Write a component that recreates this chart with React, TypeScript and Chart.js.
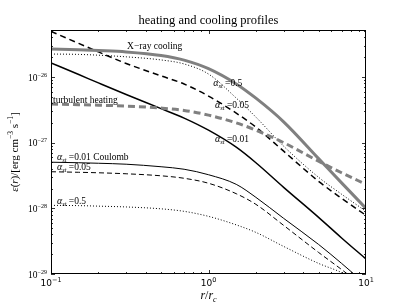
import { useEffect, useRef } from "react";
import { Chart, registerables } from "chart.js";

Chart.register(...registerables);

// radius r / r_c
const radius = [0.1, 0.15, 0.2, 0.3, 0.5, 0.7, 1, 1.5, 2, 3, 5, 7, 10];
// X-ray cooling (gray, thick)
const xrayCooling = [2.68e-26, 2.6e-26, 2.53e-26, 2.41e-26, 2.13e-26, 1.81e-26, 1.34e-26, 7.85e-27, 4.76e-27, 2.08e-27, 5.72e-28, 2.44e-28, 1.0e-28];
// turbulent heating (gray, thick dashed)
const turbulentHeating = [3.87e-27, 3.79e-27, 3.72e-27, 3.61e-27, 3.36e-27, 3.1e-27, 2.63e-27, 2.0e-27, 1.55e-27, 1.0e-27, 5.22e-28, 3.48e-28, 2.32e-28];
// upper family
const upperA05 = [2.24e-26, 2.21e-26, 2.15e-26, 2.03e-26, 1.82e-26, 1.58e-26, 1.11e-26, 4.78e-27, 2.45e-27, 8.84e-28, 2.97e-28, 1.64e-28, 9.0e-29];
const upperA005 = [4.95e-26, 3.25e-26, 2.41e-26, 1.61e-26, 1.04e-26, 7.82e-27, 5.13e-27, 2.82e-27, 1.72e-27, 7.42e-28, 2.58e-28, 1.42e-28, 7.82e-29];
const upperA001 = [1.64e-26, 1.09e-26, 8.13e-27, 5.41e-27, 3.3e-27, 2.37e-27, 1.55e-27, 8.54e-28, 4.95e-28, 2.09e-28, 7.29e-29, 3.54e-29, 1.69e-29];
// lower (Coulomb) family
const coulombA001 = [5.04e-28, 4.95e-28, 4.86e-28, 4.7e-28, 4.3e-28, 3.94e-28, 3.25e-28, 2.32e-28, 1.47e-28, 7.04e-29, 2.82e-29, 1.45e-29, 6.91e-30];
const coulombA005 = [3.61e-28, 3.54e-28, 3.48e-28, 3.36e-28, 3.13e-28, 2.87e-28, 2.41e-28, 1.67e-28, 1.15e-28, 5.5e-29, 2.13e-29, 1.17e-29, 6.0e-30];
const coulombA05 = [1.11e-28, 1.1e-28, 1.08e-28, 1.05e-28, 9.83e-29, 9.0e-29, 7.55e-29, 5.6e-29, 4.3e-29, 2.63e-29, 1.45e-29, 1.05e-29, 6.45e-30];

const xMin = 0.1;
const xMax = 10;
const yMin = 1e-29;
const yMax = 5.2e-26;
const xMajorTicks = [0.1, 1, 10];
const xTickExps = ["\u22121", "0", "1"];
const yMajorTicks = [1e-29, 1e-28, 1e-27, 1e-26];
const yTickExps = ["\u221229", "\u221228", "\u221227", "\u221226"];

const titleText = "heating and cooling profiles";

// annotation anchors: [r, value]
const xrayLabelAt = [0.304, 2.97e-26];
const turbLabelAt = [0.103, 4.46e-27];
const upperLabelR = [1.07, 1.1, 1.1];
const upperLabelV = [8.1e-27, 3.74e-27, 1.13e-27];
const upperLabelText = ["0.5", "0.05", "0.01"];
const lowerLabelR = [0.109, 0.109, 0.109];
const lowerLabelV = [6.01e-28, 4.23e-28, 1.28e-28];
const lowerLabelText = ["0.01 Coulomb", "0.05", "0.5"];

const GRAY = "#808080";
const SERIF = '"Liberation Serif", "DejaVu Serif", serif';
const SANS = '"DejaVu Sans", sans-serif';

function pts(vals: number[]) {
  return radius.map((r, i) => ({ x: r, y: vals[i] }));
}

type Piece = { t: string; f: string; dy?: number };

function drawRich(ctx: CanvasRenderingContext2D, pieces: Piece[], x: number, y: number, align: "left" | "center" | "right") {
  let total = 0;
  const widths = pieces.map((p) => {
    ctx.font = p.f;
    const w = ctx.measureText(p.t).width;
    total += w;
    return w;
  });
  let cx = align === "left" ? x : align === "center" ? x - total / 2 : x - total;
  ctx.textAlign = "left";
  ctx.textBaseline = "alphabetic";
  pieces.forEach((p, i) => {
    ctx.font = p.f;
    ctx.fillText(p.t, cx, y + (p.dy || 0));
    cx += widths[i];
  });
}

function alphaPieces(val: string): Piece[] {
  return [
    { t: "\u03b1", f: `italic 10px ${SERIF}` },
    { t: "st", f: `italic 6.5px ${SERIF}`, dy: 2 },
    { t: " =" + val, f: `9.5px ${SERIF}` },
  ];
}

const decoPlugin = {
  id: "deco",
  afterDraw(chart: any) {
    const ctx: CanvasRenderingContext2D = chart.ctx;
    const { left, right, top, bottom } = chart.chartArea;
    const xs = chart.scales.x;
    const ys = chart.scales.y;
    ctx.save();
    ctx.fillStyle = "#000";
    ctx.strokeStyle = "#000";
    // frame
    ctx.lineWidth = 1;
    ctx.strokeRect(left + 0.5, top + 0.5, right - left - 1, bottom - top - 1);
    // ticks
    ctx.lineWidth = 0.8;
    const tick = (px: number, len: number, horiz: boolean) => {
      ctx.beginPath();
      if (horiz) {
        ctx.moveTo(px, bottom);
        ctx.lineTo(px, bottom - len);
        ctx.moveTo(px, top);
        ctx.lineTo(px, top + len);
      } else {
        ctx.moveTo(left, px);
        ctx.lineTo(left + len, px);
        ctx.moveTo(right, px);
        ctx.lineTo(right - len, px);
      }
      ctx.stroke();
    };
    for (let e = -1; e <= 0; e++) {
      for (let k = 1; k <= 9; k++) {
        const v = k * Math.pow(10, e);
        if (v < xMin || v > xMax) continue;
        tick(Math.round(xs.getPixelForValue(v)) + 0.5, k === 1 ? 4 : 2, true);
      }
    }
    tick(Math.round(xs.getPixelForValue(10)) - 0.5, 4, true);
    for (let e = -29; e <= -26; e++) {
      for (let k = 1; k <= 9; k++) {
        const v = k * Math.pow(10, e);
        if (v < yMin || v > yMax) continue;
        tick(Math.round(ys.getPixelForValue(v)) + 0.5, k === 1 ? 4 : 2, false);
      }
    }
    // tick labels
    xMajorTicks.forEach((v, i) => {
      const px = xs.getPixelForValue(v);
      drawRich(ctx, [
        { t: "10", f: `9px ${SANS}` },
        { t: xTickExps[i], f: `6.5px ${SANS}`, dy: -4 },
      ], px, bottom + 12, "center");
    });
    yMajorTicks.forEach((v, i) => {
      const py = ys.getPixelForValue(v);
      drawRich(ctx, [
        { t: "10", f: `9.5px ${SERIF}` },
        { t: yTickExps[i], f: `6px ${SERIF}`, dy: -4 },
      ], left - 4, py + 3.5, "right");
    });
    // title
    drawRich(ctx, [{ t: titleText, f: `12.5px ${SERIF}` }], (left + right) / 2, 24, "center");
    // x label
    drawRich(ctx, [
      { t: "r", f: `italic 12px ${SERIF}` },
      { t: "/", f: `12px ${SERIF}` },
      { t: "r", f: `italic 12px ${SERIF}` },
      { t: "c", f: `italic 8px ${SERIF}`, dy: 2.5 },
    ], (left + right) / 2, 299, "center");
    // y label
    ctx.save();
    ctx.translate(18, (top + bottom) / 2);
    ctx.rotate(-Math.PI / 2);
    drawRich(ctx, [
      { t: "\u03b5\u0307", f: `italic 11px ${SERIF}` },
      { t: "(", f: `11px ${SERIF}` },
      { t: "r", f: `italic 11px ${SERIF}` },
      { t: ")/[erg cm", f: `11px ${SERIF}` },
      { t: "\u22123", f: `7.5px ${SERIF}`, dy: -5 },
      { t: " s", f: `11px ${SERIF}` },
      { t: "\u22121", f: `7.5px ${SERIF}`, dy: -5 },
      { t: "]", f: `11px ${SERIF}` },
    ], 0, 0, "center");
    ctx.restore();
    // annotations
    const at = (r: number, v: number) => [xs.getPixelForValue(r), ys.getPixelForValue(v) + 3];
    let p = at(xrayLabelAt[0], xrayLabelAt[1]);
    drawRich(ctx, [{ t: "X\u2212ray cooling", f: `9.5px ${SERIF}` }], p[0], p[1], "left");
    p = at(turbLabelAt[0], turbLabelAt[1]);
    drawRich(ctx, [{ t: "turbulent heating", f: `9.5px ${SERIF}` }], p[0], p[1], "left");
    upperLabelR.forEach((r, i) => {
      const q = at(r, upperLabelV[i]);
      drawRich(ctx, alphaPieces(upperLabelText[i]), q[0], q[1], "left");
    });
    lowerLabelR.forEach((r, i) => {
      const q = at(r, lowerLabelV[i]);
      drawRich(ctx, alphaPieces(lowerLabelText[i]), q[0], q[1], "left");
    });
    ctx.restore();
  },
};

export default function App() {
  const ref = useRef<HTMLCanvasElement | null>(null);
  useEffect(() => {
    if (!ref.current) return;
    const common = { pointRadius: 0, fill: false, cubicInterpolationMode: "monotone" as const };
    const chart = new Chart(ref.current, {
      type: "line",
      data: {
        datasets: [
          { ...common, label: "X-ray cooling", data: pts(xrayCooling), borderColor: GRAY, borderWidth: 3 },
          { ...common, label: "turbulent heating", data: pts(turbulentHeating), borderColor: GRAY, borderWidth: 3, borderDash: [7, 4] },
          { ...common, label: "alpha 0.5", data: pts(upperA05), borderColor: "#000", borderWidth: 1, borderDash: [1, 2] },
          { ...common, label: "alpha 0.05", data: pts(upperA005), borderColor: "#000", borderWidth: 1.5, borderDash: [6, 4] },
          { ...common, label: "alpha 0.01", data: pts(upperA001), borderColor: "#000", borderWidth: 1.5 },
          { ...common, label: "Coulomb 0.01", data: pts(coulombA001), borderColor: "#000", borderWidth: 1 },
          { ...common, label: "Coulomb 0.05", data: pts(coulombA005), borderColor: "#000", borderWidth: 1, borderDash: [5, 3] },
          { ...common, label: "Coulomb 0.5", data: pts(coulombA05), borderColor: "#000", borderWidth: 1, borderDash: [1, 2] },
        ],
      },
      options: {
        animation: false,
        responsive: false,
        parsing: false,
        layout: { padding: { left: 51, right: 41, top: 30, bottom: 31 } },
        plugins: { legend: { display: false }, tooltip: { enabled: false }, title: { display: false } },
        scales: {
          x: { type: "logarithmic", min: xMin, max: xMax, display: false },
          y: { type: "logarithmic", min: yMin, max: yMax, display: false },
        },
      },
      plugins: [decoPlugin],
    });
    return () => chart.destroy();
  }, []);
  return (
    <div style={{ position: "fixed", left: 0, top: 0, width: 407, height: 305, background: "#fff" }}>
      <canvas ref={ref} width={407} height={305} style={{ width: 407, height: 305 }} />
    </div>
  );
}
